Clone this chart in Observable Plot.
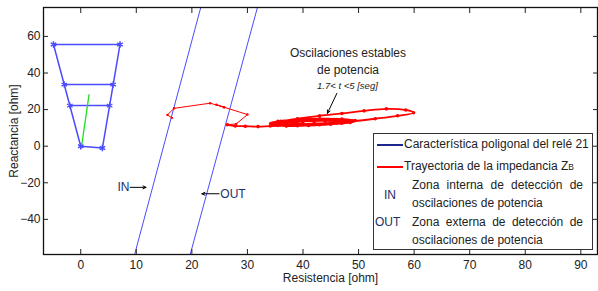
<!DOCTYPE html>
<html><head><meta charset="utf-8">
<script src="https://cdn.jsdelivr.net/npm/d3@7"></script>
<script src="https://cdn.jsdelivr.net/npm/@observablehq/plot@0.6"></script>
<style>
body{margin:0;background:#fff;font-family:Arial,"Liberation Sans",sans-serif;}
#wrap{position:relative;width:598px;height:291px;overflow:hidden;}
#legend{position:absolute;left:373px;top:133px;width:218px;height:115px;border:1px solid #333;background:#fff;font-size:12px;color:#222;}
#legend .a{position:absolute;line-height:14px;white-space:nowrap;}
#legend .ln{position:absolute;height:2px;left:3px;width:26px;}
.zn{color:#1c2f66;}
</style></head><body><div id="wrap"></div>
<script>
// axis ticks
const xTicks = [0, 10, 20, 30, 40, 50, 60, 70, 80, 90];
const yTicks = [-40, -20, 0, 20, 40, 60];

// polygonal characteristic (R, X)
const polyR = [0, 3.9, 7.07, -4.9, 0];
const polyX = [0, -1.0, 55.6, 55.6, 0];
// inner horizontal reach lines
const reachX = [33.7, 22.2];
const reachLeft = [-2.97, -1.96];
const reachRight = [5.84, 5.2];
// line impedance (green)
const lineR = [0.2, 1.5];
const lineX = [1.0, 28.2];

// power-swing blinders
const inR = [9.7, 21.6];
const inX = [-59.2, 75.8];
const outR = [19.7, 31.8];
const outX = [-59.2, 75.8];

// impedance trajectory: transient part
const trR = [16.4, 15.6, 16.8, 23.3, 25.8, 24.4, 25.8, 30.0, 28.0, 26.4];
const trX = [15.5, 17.1, 20.7, 23.5, 21.3, 22.7, 21.3, 17.3, 12.2, 11.7];
// impedance trajectory: stable oscillations
const osR = [26.4, 27.8, 29.6, 31.9, 34.1,
  37, 41, 45, 49, 53, 57, 59.9, 58.5, 55, 51, 47, 43, 39, 36, 34.5, 34.5,
  37, 41, 45, 48.5, 49.4, 47, 43, 39, 35.5, 34.2, 35.5,
  39, 43, 47, 48.8, 46, 42, 38, 35, 35.2,
  38, 42, 46, 48, 45.5, 41, 37.5, 35.5, 36.5,
  40, 44, 47.5, 46, 42, 38.5, 36.5, 38,
  42, 46, 47, 44, 40, 38, 40];
const osX = [11.7, 11.0, 10.9, 10.7, 11.0,
  11.2, 11.7, 12.5, 13.6, 15.0, 16.6, 18.3, 19.8, 20.4, 19.3, 17.9, 16.6, 15.0, 13.6, 12.6, 11.8,
  11.0, 11.3, 12.0, 13.0, 14.0, 14.8, 15.0, 14.6, 13.6, 12.4, 11.4,
  11.2, 11.7, 12.6, 13.6, 14.5, 14.6, 14.0, 12.9, 11.8,
  11.5, 11.9, 12.7, 13.5, 14.2, 14.3, 13.6, 12.5, 11.7,
  11.8, 12.3, 13.2, 14.0, 14.1, 13.5, 12.6, 12.0,
  12.4, 13.0, 13.5, 13.9, 13.6, 12.8, 12.3];

// annotations
const noteLines = ["Oscilaciones estables", "de potencia"];
const noteR = [48.1, 48.1];
const noteX = [50.9, 41.3];
const noteTime = "1.7< t <5 [seg]";
const noteTimeR = 48.0, noteTimeX = 33.1;
const arrowsR1 = [46.1, 8.9, 24.9];
const arrowsX1 = [28.9, -22.5, -26.0];
const arrowsR2 = [44.4, 11.75, 21.8];
const arrowsX2 = [18.0, -22.5, -26.0];
const zoneLabels = ["IN", "OUT"];
const zoneLabelR = [7.7, 27.4];
const zoneLabelX = [-22.6, -26.0];

const blue = "#4b4bff";
const red = "#ff0000";

const idx = (a) => a.map((_, i) => i);
const polyI = idx(polyR), trI = idx(trR), osI = idx(osR);

const plot = Plot.plot({
  width: 598, height: 291,
  marginLeft: 43, marginRight: 1, marginTop: 7, marginBottom: 37,
  x: {domain: [-6.7, 93]},
  y: {domain: [-59.2, 75.8]},
  style: {fontFamily: "Arial, 'Liberation Sans', sans-serif", fontSize: "12px", color: "#222", background: "white", overflow: "visible"},
  marks: [
    Plot.line(idx(inR), {x: i => inR[i], y: i => inX[i], stroke: blue, strokeWidth: 1, clip: true}),
    Plot.line(idx(outR), {x: i => outR[i], y: i => outX[i], stroke: blue, strokeWidth: 1, clip: true}),
    Plot.line(polyI, {x: i => polyR[i], y: i => polyX[i], stroke: blue, strokeWidth: 1.5}),
    Plot.link(idx(reachX), {x1: i => reachLeft[i], x2: i => reachRight[i], y1: i => reachX[i], y2: i => reachX[i], stroke: blue, strokeWidth: 1.5}),
    Plot.dot(polyI.slice(0, 4), {x: i => polyR[i], y: i => polyX[i], symbol: "asterisk", r: 3, stroke: blue, strokeWidth: 1.5}),
    Plot.dot(idx(reachX), {x: i => reachLeft[i], y: i => reachX[i], symbol: "asterisk", r: 3, stroke: blue, strokeWidth: 1.2}),
    Plot.dot(idx(reachX), {x: i => reachRight[i], y: i => reachX[i], symbol: "asterisk", r: 3, stroke: blue, strokeWidth: 1.2}),
    Plot.line(idx(lineR), {x: i => lineR[i], y: i => lineX[i], stroke: "#22dd22", strokeWidth: 1.3}),
    Plot.line(trI, {x: i => trR[i], y: i => trX[i], stroke: red, strokeWidth: 1}),
    Plot.dot(trI, {x: i => trR[i], y: i => trX[i], r: 1.2, fill: red}),
    Plot.line(osI, {x: i => osR[i], y: i => osX[i], stroke: red, strokeWidth: 1.8, curve: "catmull-rom"}),
    Plot.dot(osI, {x: i => osR[i], y: i => osX[i], r: 1.8, fill: red}),
    Plot.arrow(idx(arrowsR1), {x1: i => arrowsR1[i], y1: i => arrowsX1[i], x2: i => arrowsR2[i], y2: i => arrowsX2[i], stroke: "black", strokeWidth: 1, headLength: 5, headAngle: 50}),
    Plot.text(idx(noteLines), {x: i => noteR[i], y: i => noteX[i], text: i => noteLines[i], fill: "#222", fontSize: 12}),
    Plot.text([noteTime], {x: noteTimeR, y: noteTimeX, text: d => d, fill: "#222", fontSize: 9.5, fontStyle: "italic"}),
    Plot.text(zoneLabels, {x: (d, i) => zoneLabelR[i], y: (d, i) => zoneLabelX[i], text: d => d, fill: "#1c2f66", fontSize: 12}),
    Plot.frame({stroke: "#111", strokeWidth: 1.3}),
    Plot.axisX({ticks: xTicks, tickSize: -5, tickPadding: 11, label: null, fill: "#222"}),
    Plot.text(["Resistencia [ohm]"], {frameAnchor: "bottom", dx: 10, dy: 27, text: d => d, fill: "#222", fontSize: 12}),
    Plot.axisX({anchor: "top", ticks: xTicks, tickSize: -5, tickFormat: () => "", label: null}),
    Plot.axisY({ticks: yTicks, tickSize: -5, tickPadding: 8, label: "Reactancia [ohm]", labelAnchor: "center", labelOffset: 34, labelArrow: "none", fill: "#222"}),
    Plot.axisY({anchor: "right", ticks: yTicks, tickSize: -5, tickFormat: () => "", label: null})
  ]
});
const wrap = document.getElementById("wrap");
wrap.appendChild(plot);

const legend = document.createElement("div");
legend.id = "legend";
legend.innerHTML = `
<div class="ln" style="top:10px;background:#1b2a8a"></div>
<div class="a" style="left:30px;top:3px">Característica poligonal del relé 21</div>
<div class="ln" style="top:31.5px;background:${red}"></div>
<div class="a" style="left:30px;top:25px">Trayectoria de la impedancia Z<span style="font-size:8.5px">B</span></div>
<div class="a zn" style="left:10px;top:54px">IN</div>
<div class="a" style="left:38px;top:44px;width:171px;text-align:justify;text-align-last:justify">Zona interna de detección de</div>
<div class="a" style="left:38px;top:62px">oscilaciones de potencia</div>
<div class="a zn" style="left:1px;top:81px">OUT</div>
<div class="a" style="left:38px;top:81px;width:171px;text-align:justify;text-align-last:justify">Zona externa de detección de</div>
<div class="a" style="left:38px;top:99px">oscilaciones de potencia</div>`;
wrap.appendChild(legend);
</script></body></html>
